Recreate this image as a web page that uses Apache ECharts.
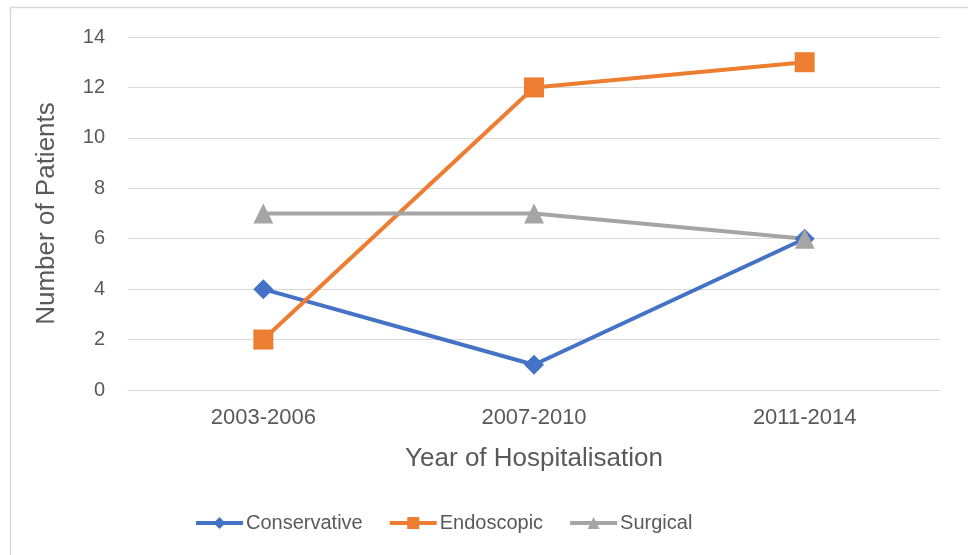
<!DOCTYPE html>
<html>
<head>
<meta charset="utf-8">
<script src="https://cdn.jsdelivr.net/npm/echarts@6/dist/echarts.min.js"></script>
<style>
  html, body { margin: 0; padding: 0; background: #fff; }
  #chart { width: 968px; height: 555px; }
</style>
</head>
<body>
<div id="chart"></div>
<script>
const periods = ['2003-2006', '2007-2010', '2011-2014'];
const conservative = [4, 1, 6];
const endoscopic = [2, 12, 13];
const surgical = [7, 7, 6];

const textColor = '#595959';
const font = 'Liberation Sans, Arial, sans-serif';

const chart = echarts.init(document.getElementById('chart'), null, { renderer: 'canvas' });

function lineSeries(name, data, color, symbol, size) {
  return {
    name: name,
    type: 'line',
    data: data,
    symbol: symbol,
    symbolSize: size,
    lineStyle: { width: 4, color: color },
    itemStyle: { color: color },
    z: 3
  };
}

chart.setOption({
  animation: false,
  backgroundColor: '#fff',
  textStyle: { fontFamily: font },
  graphic: [{
    type: 'rect',
    shape: { x: 10.5, y: 7.5, width: 980, height: 570 },
    style: { fill: 'none', stroke: '#d9d9d9', lineWidth: 1.5 },
    silent: true
  }],
  grid: { left: 128, right: 28, top: 37, bottom: 165 },
  legend: {
    top: 513,
    left: 194,
    padding: 0,
    itemWidth: 47,
    itemHeight: 15,
    itemGap: 25,
    lineStyle: { width: 4 },
    textStyle: { color: textColor, fontSize: 20, fontFamily: font, padding: [0, 0, 0, -2] },
    data: ['Conservative', 'Endoscopic', 'Surgical']
  },
  xAxis: {
    type: 'category',
    data: periods,
    boundaryGap: true,
    name: 'Year of Hospitalisation',
    nameLocation: 'middle',
    nameGap: 56,
    nameTextStyle: { color: textColor, fontSize: 26, fontFamily: font },
    axisLine: { show: true, lineStyle: { color: '#d9d9d9', width: 1 } },
    axisTick: { show: false },
    axisLabel: { color: textColor, fontSize: 22, margin: 17, fontFamily: font }
  },
  yAxis: {
    type: 'value',
    min: 0,
    max: 14,
    interval: 2,
    name: 'Number of Patients',
    nameLocation: 'middle',
    nameGap: 68,
    nameTextStyle: { color: textColor, fontSize: 26, fontFamily: font },
    axisLine: { show: false },
    axisTick: { show: false },
    axisLabel: { color: textColor, fontSize: 20, margin: 23, fontFamily: font },
    splitLine: { lineStyle: { color: '#d9d9d9', width: 1 } }
  },
  series: [
    lineSeries('Conservative', conservative, '#4472c4', 'diamond', 20),
    lineSeries('Endoscopic', endoscopic, '#ed7d31', 'rect', 20),
    lineSeries('Surgical', surgical, '#a5a5a5', 'triangle', 20)
  ]
});
</script>
</body>
</html>
